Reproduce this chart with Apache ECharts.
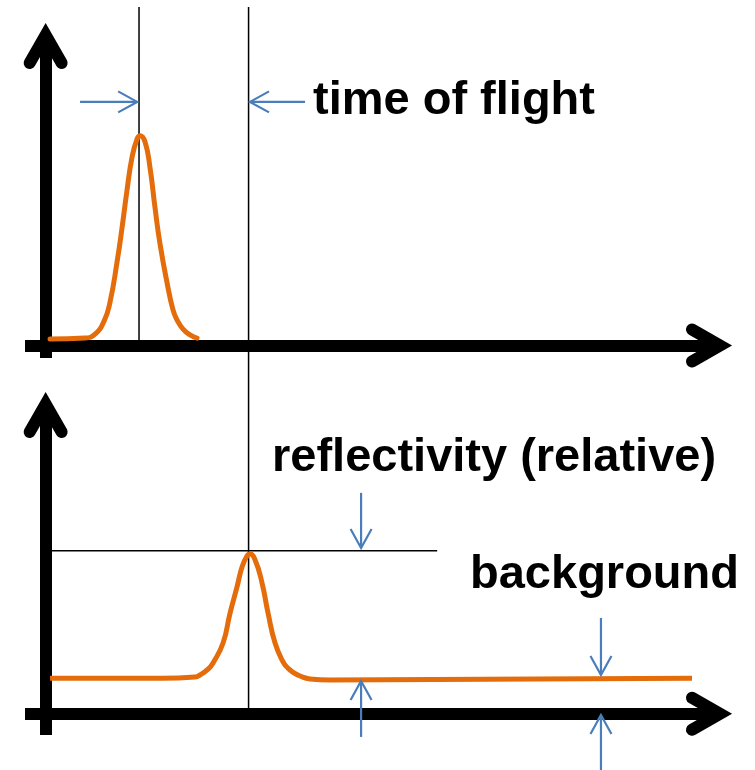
<!DOCTYPE html>
<html>
<head>
<meta charset="utf-8">
<script src="https://cdn.jsdelivr.net/npm/echarts@6/dist/echarts.min.js"></script>
<style>
  html, body { margin: 0; padding: 0; background: #ffffff; }
  #chart { width: 755px; height: 770px; }
</style>
</head>
<body>
<div id="chart"></div>
<script>
// Emitted pulse (upper panel): time vs. signal amplitude
const pulseTime   = [0.64, 5.73, 7.18, 8.49, 9.36, 10.38, 11.10, 11.83, 12.56, 13.28, 13.72, 14.45, 15.17, 15.90, 16.62, 17.65, 18.51, 19.10, 19.97, 20.99, 22.0];
const pulseSignal = [0.031, 0.035, 0.054, 0.116, 0.207, 0.398, 0.560, 0.741, 0.898, 0.984, 1.0, 0.970, 0.846, 0.655, 0.484, 0.298, 0.169, 0.121, 0.078, 0.050, 0.035];

// Received echo (lower panel): time vs. signal amplitude, sitting on a background level
const echoTime   = [0.64, 16.92, 21.71, 22.44, 23.60, 24.33, 25.78, 26.80, 27.81, 28.54, 29.26, 29.70, 30.43, 31.45, 32.32, 33.34, 34.50, 35.22, 35.95, 36.97, 38.42, 41.33, 93.93];
const echoSignal = [0.218, 0.218, 0.226, 0.238, 0.274, 0.312, 0.434, 0.618, 0.778, 0.900, 0.968, 0.980, 0.945, 0.802, 0.618, 0.434, 0.318, 0.280, 0.254, 0.232, 0.214, 0.207, 0.218];

// Reference markers
const pulseAt = 13.57;          // time of the emitted pulse
const echoAt = 29.49;           // time of the echo
const guideTop = 1.614;         // upper end of the time guides (upper panel units)
const peakLevel = 1.0;          // echo peak level (lower panel units)
const peakGuideEnd = 56.9;      // right end of the peak-level guide
const backgroundLevel = 0.218;  // background level (lower panel units)

// Annotation arrows: [panel, x1, y1, x2 (tip), y2 (tip)]
const arrows = [
  [0, 5.0, 1.161, 13.3, 1.161],
  [0, 37.7, 1.161, 29.7, 1.161],
  [1, 45.84, 1.355, 45.84, 1.017],
  [1, 45.84, -0.142, 45.84, 0.201],
  [1, 80.7, 0.588, 80.7, 0.238],
  [1, 80.7, -0.345, 80.7, -0.007]
];

// Text labels
const labels = ['time of flight', 'reflectivity (relative)', 'background'];

const ORANGE = '#e46c0a';
const BLUE = '#4a7ebb';
const FONT = '"Liberation Sans", Arial, sans-serif';

const chart = echarts.init(document.getElementById('chart'), null, { renderer: 'canvas' });

function axisX(gridIndex) {
  return {
    type: 'value', gridIndex, min: -3, max: 98,
    axisLine: { onZero: true, lineStyle: { color: '#000', width: 12, cap: 'butt' } },
    axisTick: { show: false }, axisLabel: { show: false }, splitLine: { show: false }
  };
}
function axisY(gridIndex, min, max) {
  return {
    type: 'value', gridIndex, min, max,
    axisLine: { onZero: true, lineStyle: { color: '#000', width: 12, cap: 'butt' } },
    axisTick: { show: false }, axisLabel: { show: false }, splitLine: { show: false }
  };
}

chart.setOption({
  animation: false,
  backgroundColor: '#ffffff',
  grid: [
    { left: 25, right: 35, top: 35, bottom: 412, containLabel: false },
    { left: 25, right: 35, top: 404, bottom: 35, containLabel: false }
  ],
  xAxis: [axisX(0), axisX(1)],
  yAxis: [axisY(0, -0.06, 1.48), axisY(1, -0.13, 1.9)],
  series: [
    {
      type: 'line', xAxisIndex: 0, yAxisIndex: 0,
      data: pulseTime.map((t, i) => [t, pulseSignal[i]]),
      smooth: 0.5, showSymbol: false, clip: false, z: 5,
      lineStyle: { color: ORANGE, width: 5, cap: 'round', join: 'round' }
    },
    {
      type: 'line', xAxisIndex: 1, yAxisIndex: 1,
      data: echoTime.map((t, i) => [t, echoSignal[i]]),
      smooth: 0.5, showSymbol: false, clip: false, z: 5,
      lineStyle: { color: ORANGE, width: 5, cap: 'butt', join: 'round' }
    }
  ]
});

const px = (g, x, y) => chart.convertToPixel({ gridIndex: g }, [x, y]);

const graphics = [];

// thin black guides
function guide(p1, p2) {
  graphics.push({
    type: 'line', z: 1,
    shape: { x1: p1[0], y1: p1[1], x2: p2[0], y2: p2[1] },
    style: { stroke: '#000', lineWidth: 1.5 }
  });
}
guide(px(0, pulseAt, guideTop), px(0, pulseAt, -0.03));
guide(px(0, echoAt, guideTop), px(1, echoAt, 0));
guide(px(1, 0.64, peakLevel), px(1, peakGuideEnd, peakLevel));

// open arrowheads on the axes
function axisHead(tip, dir) {
  const pts = dir === 'right'
    ? [[tip[0] - 28, tip[1] - 16], tip, [tip[0] - 28, tip[1] + 16]]
    : [[tip[0] - 16, tip[1] + 28], tip, [tip[0] + 16, tip[1] + 28]];
  graphics.push({
    type: 'polyline', z: 10,
    shape: { points: pts },
    style: { stroke: '#000', lineWidth: 12, lineCap: 'round', lineJoin: 'miter', fill: null }
  });
}
axisHead(px(0, 98, 0), 'right');
axisHead(px(0, 0, 1.48), 'up');
axisHead(px(1, 98, 0), 'right');
axisHead(px(1, 0, 1.9), 'up');

// blue annotation arrows
arrows.forEach(([g, x1, y1, x2, y2]) => {
  const a = px(g, x1, y1), b = px(g, x2, y2);
  const dx = b[0] - a[0], dy = b[1] - a[1];
  const len = Math.hypot(dx, dy);
  const ux = dx / len, uy = dy / len;
  const nx = -uy, ny = ux;
  const back = 19, half = 10.5;
  graphics.push({
    type: 'line', z: 8,
    shape: { x1: a[0], y1: a[1], x2: b[0], y2: b[1] },
    style: { stroke: BLUE, lineWidth: 2.2 }
  });
  graphics.push({
    type: 'polyline', z: 8,
    shape: { points: [
      [b[0] - back * ux + half * nx, b[1] - back * uy + half * ny],
      b,
      [b[0] - back * ux - half * nx, b[1] - back * uy - half * ny]
    ] },
    style: { stroke: BLUE, lineWidth: 2.2, lineJoin: 'miter', fill: null }
  });
});

// text labels
const labelPos = [[313, 101.5], [272, 458.5], [470, 575.5]];
labels.forEach((txt, i) => {
  graphics.push({
    type: 'text', z: 12,
    x: labelPos[i][0], y: labelPos[i][1],
    style: {
      text: txt, fill: '#000',
      font: 'bold 47px ' + FONT,
      align: 'left', verticalAlign: 'middle'
    }
  });
});

chart.setOption({ graphic: graphics });
</script>
</body>
</html>
